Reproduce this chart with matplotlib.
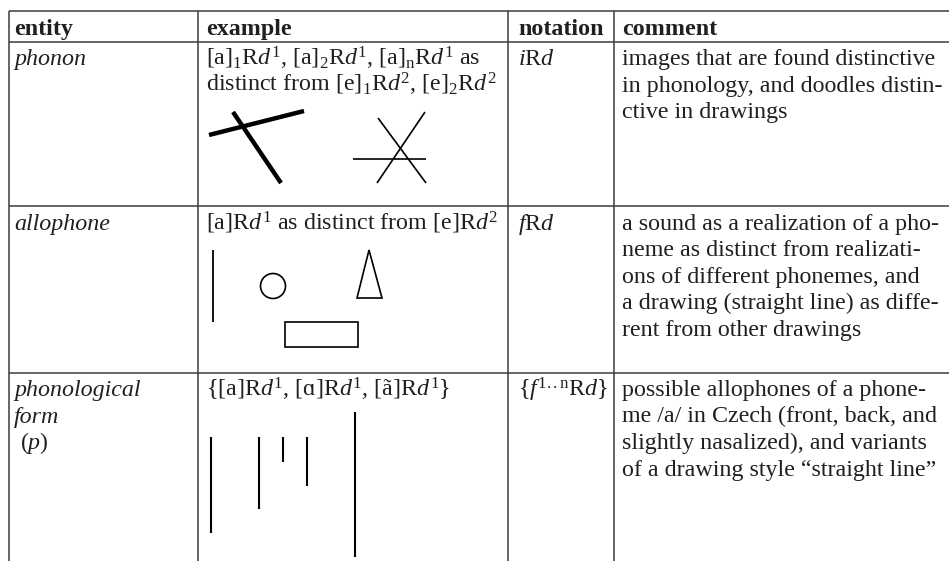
import matplotlib
matplotlib.use("Agg")
import matplotlib.pyplot as plt
from matplotlib.patches import Circle, Polygon, Rectangle

plt.rcParams['mathtext.fontset'] = 'custom'
plt.rcParams['mathtext.rm'] = 'Liberation Serif'
plt.rcParams['mathtext.it'] = 'Liberation Serif:italic'
plt.rcParams['mathtext.bf'] = 'Liberation Serif:bold'
plt.rcParams['mathtext.default'] = 'it'

# ---------------- table content ----------------
headers = ["entity", "example", "notation", "comment"]

entities = [
    ["phonon"],
    ["allophone"],
    ["phonological", "form", " ($p$)"],
]

examples = [
    ["[a]$_1$R$d^1$, [a]$_2$R$d^1$, [a]$_\\mathrm{n}$R$d^1$ as",
     "distinct from [e]$_1$R$d^2$, [e]$_2$R$d^2$"],
    ["[a]R$d^1$ as distinct from [e]R$d^2$"],
    ["{[a]R$d^1$, [ɑ]R$d^1$, [ã]R$d^1$}"],
]

notations = [
    ["$i$R$d$"],
    ["$f$R$d$"],
    ["{$f^{\\mathrm{1..n}}$R$d$}"],
]

comments = [
    ["images that are found distinctive",
     "in phonology, and doodles distin-",
     "ctive in drawings"],
    ["a sound as a realization of a pho-",
     "neme as distinct from realizati-",
     "ons of different phonemes, and",
     "a drawing (straight line) as diffe-",
     "rent from other drawings"],
    ["possible allophones of a phone-",
     "me /a/ in Czech (front, back, and",
     "slightly nasalized), and variants",
     "of a drawing style \u201cstraight line\u201d"],
]

# ---------------- illustrations (pixel space of the page) ----------------
phonon_thick = [((209, 135), (304, 111)), ((233, 112), (281, 183))]
phonon_star = [((353, 159), (426, 159)), ((377, 183), (425, 112)), ((378, 118), (426, 183))]
allophone_line = [((213, 250), (213, 322))]
allophone_circle = ((273, 286), 12.5)
allophone_triangle = [(369, 250), (357, 298), (382, 298)]
allophone_rect = ((285, 322), 73, 25)
form_lines = [((211, 437), (211, 533)), ((259, 437), (259, 509)),
              ((283, 437), (283, 462)), ((307, 437), (307, 486)),
              ((355, 412), (355, 557))]

# ---------------- layout ----------------
W, H = 949, 561
col_x = [9, 198, 508, 614]
row_y = [11, 42, 206, 373]
text_x = [14, 206, 518, 622]
header_base = 35
row_base = [65, 229.5, 396]
lead = 26.5
fs = 17.3
TXT = '#231f20'
LINE = '#3c3c3c'

fig = plt.figure(figsize=(W / 100, H / 100), dpi=100)
ax = fig.add_axes([0, 0, 1, 1])
ax.set_xlim(0, W)
ax.set_ylim(H, 0)
ax.axis('off')

# grid
for y in row_y:
    ax.plot([col_x[0], W], [y, y], color=LINE, lw=1.1, solid_capstyle='butt')
for x in col_x:
    ax.plot([x, x], [row_y[0], H], color=LINE, lw=1.1, solid_capstyle='butt')

font = dict(family=['Liberation Serif', 'DejaVu Serif'], fontsize=fs, color=TXT,
            va='baseline', ha='left')

for x, h in zip(text_x, headers):
    ax.text(x, header_base, h, weight='bold', **font)


def put(col, r, lines, style='normal'):
    for i, s in enumerate(lines):
        ax.text(text_x[col], row_base[r] + i * lead, s, style=style, **font)


for r in range(3):
    ent = entities[r]
    for i, s in enumerate(ent):
        st = 'normal' if '$' in s else 'italic'
        ax.text(text_x[0], row_base[r] + i * lead, s, style=st, **font)
    put(1, r, examples[r])
    put(2, r, notations[r])
    put(3, r, comments[r])

# illustrations
for (a, b) in phonon_thick:
    ax.plot([a[0], b[0]], [a[1], b[1]], color='black', lw=3.2, solid_capstyle='butt')
for (a, b) in phonon_star:
    ax.plot([a[0], b[0]], [a[1], b[1]], color='black', lw=1.2, solid_capstyle='butt')
for (a, b) in allophone_line:
    ax.plot([a[0], b[0]], [a[1], b[1]], color='black', lw=1.3, solid_capstyle='butt')
c, rad = allophone_circle
ax.add_patch(Circle(c, rad, fill=False, ec='black', lw=1.2))
ax.add_patch(Polygon(allophone_triangle, closed=True, fill=False, ec='black', lw=1.2))
(rx, ry), rw, rh = allophone_rect
ax.add_patch(Rectangle((rx, ry), rw, rh, fill=False, ec='black', lw=1.2))
for (a, b) in form_lines:
    ax.plot([a[0], b[0]], [a[1], b[1]], color='black', lw=1.5, solid_capstyle='butt')

fig.savefig('out.png', dpi=100, facecolor='white')
